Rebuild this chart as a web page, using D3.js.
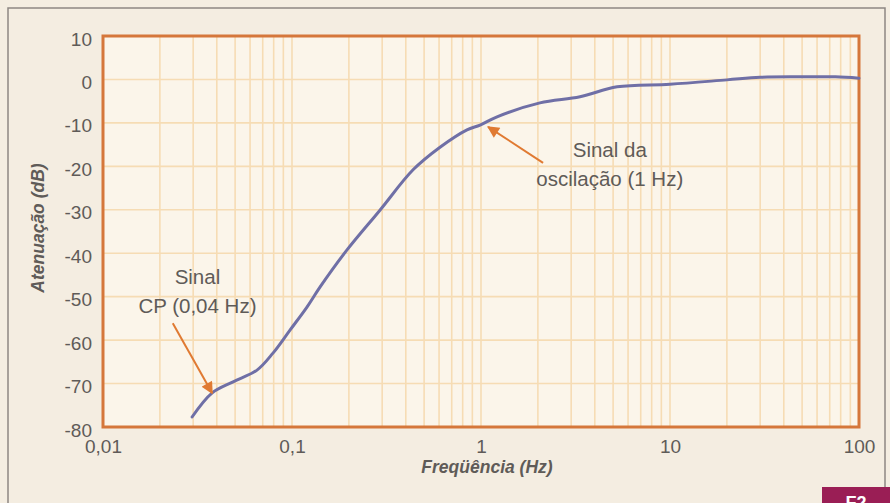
<!DOCTYPE html>
<html>
<head>
<meta charset="utf-8">
<script src="https://cdn.jsdelivr.net/npm/d3@7"></script>
<style>
	html, body { margin: 0; padding: 0; background: #f4ede1; }
	svg { display: block; font-family: "Liberation Sans", Arial, sans-serif; }
</style>
</head>
<body>
<div id="chart"></div>
<script>
// frequency (Hz) and attenuation (dB)
var frequencies = [0.0296, 0.0377, 0.0488, 0.0653, 0.0793, 0.0976, 0.12, 0.1406, 0.195, 0.292, 0.437, 0.607, 0.843, 0.989, 1.216, 2.05, 3.34, 5.25, 10, 20, 30, 50, 75, 100];
var attenuation = [-77.7, -72.2, -69.6, -66.9, -63.0, -57.7, -52.4, -47.8, -39.3, -30.1, -20.8, -15.6, -11.6, -10.5, -8.6, -5.4, -4.0, -1.7, -1.1, -0.1, 0.5, 0.6, 0.6, 0.3];

var xTickValues = [0.01, 0.1, 1, 10, 100];
var xTickLabels = ["0,01", "0,1", "1", "10", "100"];
var yTickValues = [10, 0, -10, -20, -30, -40, -50, -60, -70, -80];

// annotations: text lines, anchor and arrow start / end in data units
var noteLines = [["Sinal", "CP (0,04 Hz)"], ["Sinal da", "oscilação (1 Hz)"]];
var noteAnchors = [[0.0316, -47], [4.8, -17.9]];
var noteArrowFrom = [[0.0234, -56.1], [2.13, -19.2]];
var noteArrowTo = [[0.0378, -72.2], [1.09, -10.9]];

/**
 * Attenuation chart renderer
 */
class AttenuationChart {
	constructor(options) {
		this._options = options;

		// log x scale, linear y scale
		this._x = d3.scaleLog().domain([0.01, 100]).range([options.left, options.right]);
		this._y = d3.scaleLinear().domain([-80, 10]).range([options.bottom, options.top]);

		this._svgEl = null;
	}

	render(selector) {
		var o = this._options;
		var svg = this._svgEl = d3.select(selector).append("svg")
			.attr("width", o.width)
			.attr("height", o.height);

		svg.append("rect")
			.attr("width", o.width).attr("height", o.height)
			.attr("fill", "#f4ede1");

		this._renderPage();
		this._renderGrid();
		this._renderAxes();
		this._renderCurve();
		this._renderNotes();

		return this;
	}

	// outer page frame and figure tab
	_renderPage() {
		var svg = this._svgEl;
		svg.append("path")
			.attr("d", "M8,503 L8,8 L885,8 L885,487")
			.attr("fill", "none")
			.attr("stroke", "#8d8782")
			.attr("stroke-width", 1.5);

		svg.append("rect")
			.attr("x", 822).attr("y", 487)
			.attr("width", 68).attr("height", 16)
			.attr("fill", "#9a1e55");

		// the tab label is cut by the page edge in the print
		svg.append("text")
			.attr("x", 856).attr("y", 509)
			.attr("text-anchor", "middle")
			.attr("fill", "#ffffff")
			.attr("font-weight", "bold")
			.attr("font-size", 18)
			.text("F2");
	}

	_renderGrid() {
		var o = this._options;
		var x = this._x;
		var y = this._y;
		var g = this._svgEl.append("g");

		g.append("rect")
			.attr("x", o.left).attr("y", o.top)
			.attr("width", o.right - o.left).attr("height", o.bottom - o.top)
			.attr("fill", "#fbf5ea");

		// minor log lines 1..9 for every decade
		var minor = [];
		[0.01, 0.1, 1, 10].forEach(function (d) {
			for (var k = 1; k < 10; k++) minor.push(d * k);
		});

		g.selectAll(".vgrid")
			.data(minor)
			.enter().append("line")
			.attr("x1", function (d) { return x(d); })
			.attr("x2", function (d) { return x(d); })
			.attr("y1", o.top).attr("y2", o.bottom)
			.attr("stroke", "#f6dcb4")
			.attr("stroke-width", 1.6);

		g.selectAll(".hgrid")
			.data(yTickValues)
			.enter().append("line")
			.attr("x1", o.left).attr("x2", o.right)
			.attr("y1", function (d) { return y(d); })
			.attr("y2", function (d) { return y(d); })
			.attr("stroke", "#f6dcb4")
			.attr("stroke-width", 1.6);

		// orange frame
		this._svgEl.append("rect")
			.attr("x", o.left).attr("y", o.top)
			.attr("width", o.right - o.left).attr("height", o.bottom - o.top)
			.attr("fill", "none")
			.attr("stroke", "#d5773b")
			.attr("stroke-width", 3);
	}

	_renderAxes() {
		var o = this._options;
		var svg = this._svgEl;

		var xAxis = d3.axisBottom(this._x)
			.tickValues(xTickValues)
			.tickSize(0)
			.tickPadding(13)
			.tickFormat(function (d, i) { return xTickLabels[i]; });

		var xg = svg.append("g")
			.attr("transform", "translate(0," + o.bottom + ")")
			.call(xAxis);

		// plain hyphen, as printed
		var yAxis = d3.axisLeft(this._y)
			.tickValues(yTickValues)
			.tickSize(0)
			.tickPadding(11)
			.tickFormat(function (d) { return String(d); });

		var yg = svg.append("g")
			.attr("transform", "translate(" + o.left + ",3)")
			.call(yAxis);

		[xg, yg].forEach(function (g) {
			g.select(".domain").remove();
			g.selectAll(".tick text")
				.attr("fill", "#5f5b58")
				.attr("font-size", 19)
				.attr("font-family", "Liberation Sans, Arial, sans-serif");
		});

		svg.append("text")
			.attr("x", 487).attr("y", 473)
			.attr("text-anchor", "middle")
			.attr("font-size", 17.5)
			.attr("font-weight", "bold")
			.attr("font-style", "italic")
			.attr("fill", "#5f5b58")
			.text("Freqüência (Hz)");

		svg.append("text")
			.attr("transform", "translate(44,228) rotate(-90)")
			.attr("text-anchor", "middle")
			.attr("font-size", 17.5)
			.attr("font-weight", "bold")
			.attr("font-style", "italic")
			.attr("fill", "#5f5b58")
			.text("Atenuação (dB)");
	}

	_renderCurve() {
		var x = this._x;
		var y = this._y;
		var points = frequencies.map(function (f, i) { return [f, attenuation[i]]; });

		var line = d3.line()
			.x(function (d) { return x(d[0]); })
			.y(function (d) { return y(d[1]); })
			.curve(d3.curveCatmullRom.alpha(0.5));

		this._svgEl.append("path")
			.datum(points)
			.attr("d", line)
			.attr("fill", "none")
			.attr("stroke", "#6f6fa6")
			.attr("stroke-width", 3)
			.attr("stroke-linecap", "round");
	}

	_renderNotes() {
		var x = this._x;
		var y = this._y;
		var svg = this._svgEl;

		svg.append("defs").append("marker")
			.attr("id", "arrow")
			.attr("viewBox", "0 0 10 10")
			.attr("refX", 9).attr("refY", 5)
			.attr("markerWidth", 7).attr("markerHeight", 6)
			.attr("orient", "auto")
			.append("path")
			.attr("d", "M0,0 L10,5 L0,10 Z")
			.attr("fill", "#e07a32");

		noteLines.forEach(function (lines, i) {
			var t = svg.append("text")
				.attr("x", x(noteAnchors[i][0]))
				.attr("y", y(noteAnchors[i][1]))
				.attr("text-anchor", "middle")
				.attr("font-size", 20.5)
				.attr("fill", "#5f5b58");
			lines.forEach(function (s, j) {
				t.append("tspan")
					.attr("x", x(noteAnchors[i][0]))
					.attr("dy", j ? 29 : 0)
					.text(s);
			});

			svg.append("line")
				.attr("x1", x(noteArrowFrom[i][0]))
				.attr("y1", y(noteArrowFrom[i][1]))
				.attr("x2", x(noteArrowTo[i][0]))
				.attr("y2", y(noteArrowTo[i][1]))
				.attr("stroke", "#e07a32")
				.attr("stroke-width", 2)
				.attr("marker-end", "url(#arrow)");
		});
	}
}

new AttenuationChart({
	width: 890,
	height: 503,
	left: 103,
	right: 859,
	top: 36,
	bottom: 427
}).render("#chart");
</script>
</body>
</html>
